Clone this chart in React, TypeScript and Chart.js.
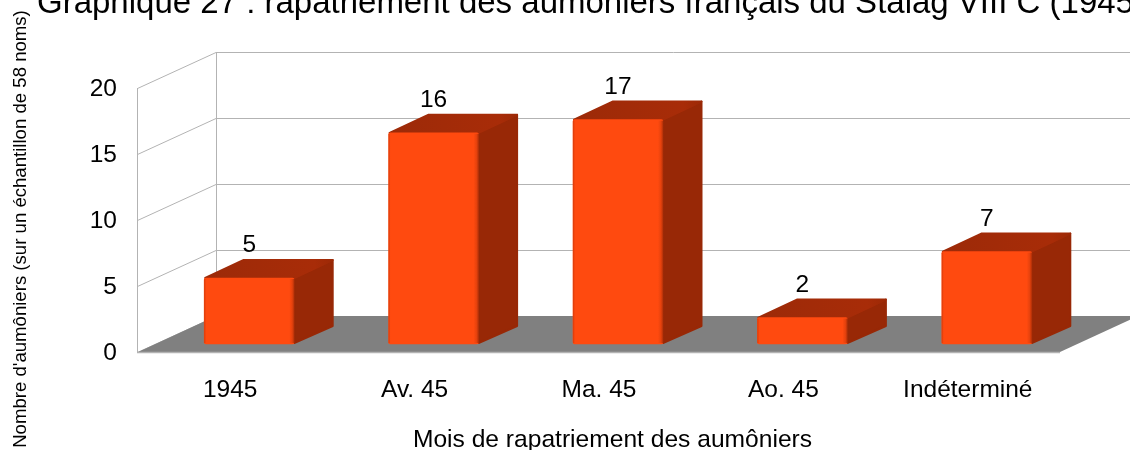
import React, { useEffect, useRef } from "react";
import { Chart, registerables } from "chart.js";

Chart.register(...registerables);

const categories = ["1945", "Av. 45", "Ma. 45", "Ao. 45", "Indéterminé"];
const chaplains = [5, 16, 17, 2, 7];
const chartTitle = "Graphique 27 : rapatriement des aumôniers français du Stalag VIII C (1945)";
const xTitle = "Mois de rapatriement des aumôniers";
const yTitle = "Nombre d'aumôniers (sur un échantillon de 58 noms)";

const FONT = '"Liberation Sans", Arial, sans-serif';
const WALL_DX = 78;
const WALL_DY = -36;
const BAR_DX = 19;
const BAR_DY = -8;
const DEPTH_DX = 39.5;
const DEPTH_DY = -19;

const scene3d = {
  id: "scene3d",
  beforeDatasetsDraw(chart: any) {
    const { ctx, scales } = chart;
    const x0 = scales.x.left;
    const x1 = scales.x.right;
    const y0 = scales.y.getPixelForValue(0);
    ctx.save();
    ctx.strokeStyle = "#b3b3b3";
    ctx.lineWidth = 1;
    for (const t of scales.y.ticks) {
      const y = scales.y.getPixelForValue(t.value);
      ctx.beginPath();
      ctx.moveTo(x0 - 0.5, y + 0.5);
      ctx.lineTo(x0 + WALL_DX, y + WALL_DY + 0.5);
      ctx.lineTo(x1 + WALL_DX, y + WALL_DY + 0.5);
      ctx.stroke();
    }
    const yTop = scales.y.getPixelForValue(20);
    ctx.beginPath();
    ctx.moveTo(x0 - 0.5, yTop);
    ctx.lineTo(x0 - 0.5, y0);
    ctx.moveTo(x0 + WALL_DX + 0.5, yTop + WALL_DY);
    ctx.lineTo(x0 + WALL_DX + 0.5, y0 + WALL_DY);
    ctx.stroke();
    ctx.fillStyle = "#808080";
    ctx.beginPath();
    ctx.moveTo(x0, y0);
    ctx.lineTo(x0 + WALL_DX, y0 + WALL_DY);
    ctx.lineTo(x1 + WALL_DX, y0 + WALL_DY);
    ctx.lineTo(x1, y0);
    ctx.closePath();
    ctx.fill();
    ctx.strokeStyle = "#b3b3b3";
    ctx.lineWidth = 1.5;
    ctx.beginPath();
    ctx.moveTo(x0 - 1, y0 + 0.5);
    ctx.lineTo(x1, y0 + 0.5);
    ctx.stroke();

    ctx.lineJoin = "round";
    ctx.lineWidth = 2;
    for (const bar of chart.getDatasetMeta(0).data) {
      const l = bar.x - bar.width / 2 + BAR_DX;
      const r = bar.x + bar.width / 2 + BAR_DX;
      const t = bar.y + BAR_DY;
      const b = bar.base + BAR_DY;
      const side = "#982806";
      ctx.fillStyle = side;
      ctx.strokeStyle = side;
      ctx.beginPath();
      ctx.moveTo(r, t);
      ctx.lineTo(r + DEPTH_DX - 1, t + DEPTH_DY + 1);
      ctx.lineTo(r + DEPTH_DX - 1, b + DEPTH_DY + 1);
      ctx.lineTo(r, b - 1);
      ctx.closePath();
      ctx.fill();
      ctx.stroke();
      const grad = ctx.createLinearGradient(l, t, r + DEPTH_DX, t + DEPTH_DY);
      grad.addColorStop(0, "#9c2a08");
      grad.addColorStop(0.85, "#a82c08");
      grad.addColorStop(1, "#9c2906");
      ctx.fillStyle = grad;
      ctx.strokeStyle = grad;
      ctx.beginPath();
      ctx.moveTo(l + 1, t);
      ctx.lineTo(l + DEPTH_DX, t + DEPTH_DY + 1);
      ctx.lineTo(r + DEPTH_DX - 1, t + DEPTH_DY + 1);
      ctx.lineTo(r, t);
      ctx.closePath();
      ctx.fill();
      ctx.stroke();
    }
    ctx.restore();
  },
  beforeDatasetDraw(chart: any) {
    chart.ctx.save();
    chart.ctx.translate(BAR_DX, BAR_DY);
  },
  afterDatasetDraw(chart: any) {
    const ctx = chart.ctx;
    ctx.restore();
    ctx.save();
    chart.getDatasetMeta(0).data.forEach((bar: any, i: number) => {
      const l = bar.x - bar.width / 2 + BAR_DX;
      const r = bar.x + bar.width / 2 + BAR_DX;
      const t = bar.y + BAR_DY;
      const b = bar.base + BAR_DY;
      const shadeR = ctx.createLinearGradient(r - 5, 0, r + 1, 0);
      shadeR.addColorStop(0, "rgba(152,40,6,0)");
      shadeR.addColorStop(0.5, "rgba(152,40,6,0.25)");
      shadeR.addColorStop(1, "rgba(152,40,6,1)");
      ctx.fillStyle = shadeR;
      ctx.fillRect(r - 5, t + 1, 6, b - t - 2);
      const shadeL = ctx.createLinearGradient(l, 0, l + 2, 0);
      shadeL.addColorStop(0, "rgba(190,50,8,0.6)");
      shadeL.addColorStop(1, "rgba(190,50,8,0)");
      ctx.fillStyle = shadeL;
      ctx.fillRect(l, t + 1, 2, b - t - 2);

      ctx.fillStyle = "#000";
      ctx.font = `24.5px ${FONT}`;
      ctx.textAlign = "center";
      ctx.textBaseline = "alphabetic";
      ctx.fillText(String(chaplains[i]), (l + r) / 2, t - 26);
    });
    ctx.restore();
  },
  afterDraw(chart: any) {
    const ctx = chart.ctx;
    ctx.save();
    ctx.fillStyle = "#000";
    ctx.textBaseline = "alphabetic";
    ctx.textAlign = "left";
    ctx.font = `33px ${FONT}`;
    ctx.fillText(chartTitle, 37, 13);
    ctx.textAlign = "center";
    ctx.font = `24.6px ${FONT}`;
    ctx.fillText(xTitle, 612.5, 447);
    ctx.translate(25.5, 229);
    ctx.rotate(-Math.PI / 2);
    ctx.font = `18.6px ${FONT}`;
    ctx.fillText(yTitle, 0, 0);
    ctx.restore();
  },
};

export default function App() {
  const ref = useRef<HTMLCanvasElement>(null);
  useEffect(() => {
    document.body.style.margin = "0";
    const chart = new Chart(ref.current as HTMLCanvasElement, {
      type: "bar",
      data: {
        labels: categories,
        datasets: [
          {
            label: "Aumôniers",
            data: chaplains,
            backgroundColor: "#ff4a0f",
            barThickness: 90,
            borderRadius: 2,
            borderSkipped: false,
            clip: false,
          } as any,
        ],
      },
      options: {
        responsive: false,
        animation: false,
        layout: { padding: { top: 88, right: 70, left: 0, bottom: 0 } },
        plugins: { legend: { display: false }, title: { display: false }, tooltip: { enabled: false } },
        scales: {
          x: {
            grid: { display: false },
            border: { display: false },
            ticks: { color: "#000", font: { family: FONT, size: 24.5 }, padding: 16, maxRotation: 0, autoSkip: false },
            afterFit: (s: any) => { s.height = 98; },
          },
          y: {
            min: 0,
            max: 20,
            grid: { display: false },
            border: { display: false },
            ticks: { stepSize: 5, color: "#000", font: { family: FONT, size: 24.5 }, padding: 13, labelOffset: 1.5 },
            afterFit: (s: any) => { s.width = 138; },
          },
        },
      },
      plugins: [scene3d],
    } as any);
    return () => chart.destroy();
  }, []);
  return (
    <div style={{ width: 1130, height: 450, overflow: "hidden", background: "#fff" }}>
      <canvas ref={ref} width={1130} height={450} style={{ display: "block" }} />
    </div>
  );
}
